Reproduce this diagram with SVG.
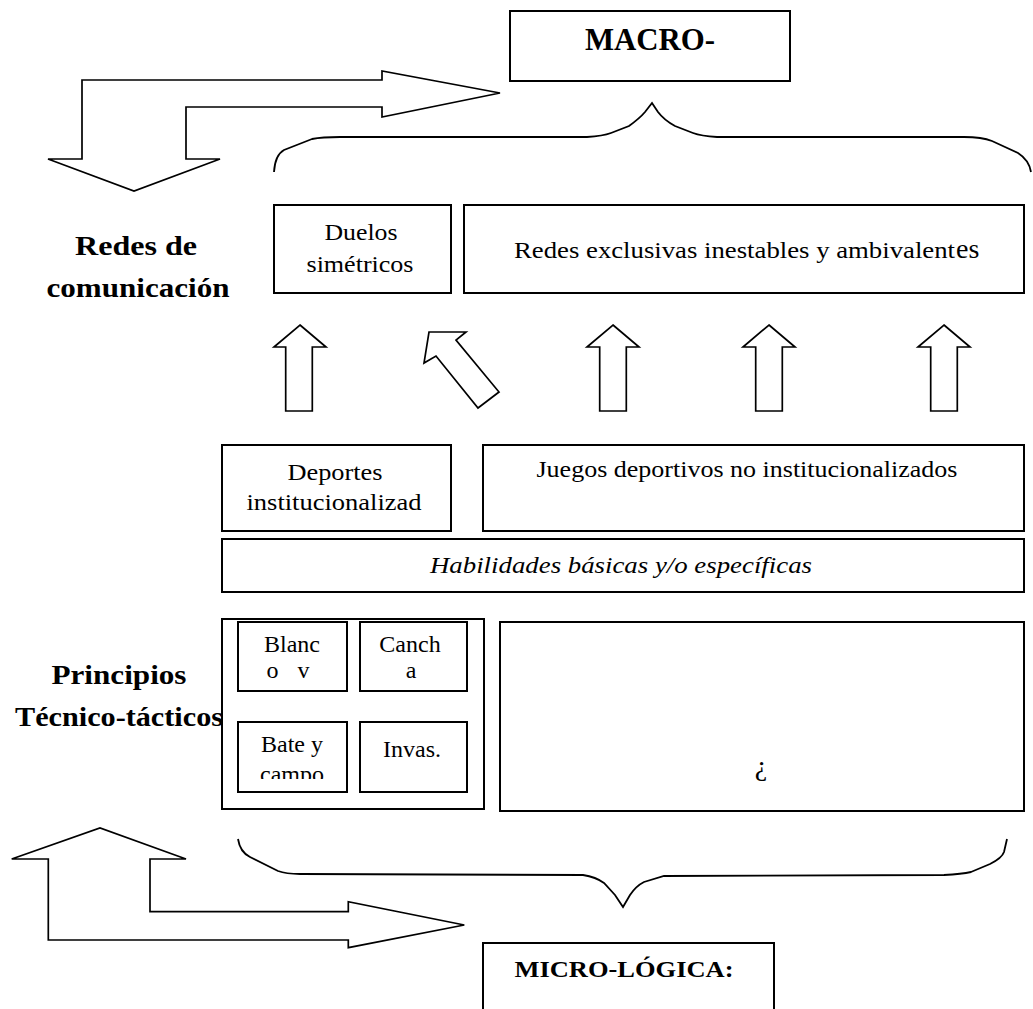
<svg xmlns="http://www.w3.org/2000/svg" width="1033" height="1009" viewBox="0 0 1033 1009">
<style>
.box{fill:#fff;stroke:#000;stroke-width:2}
.arr{fill:#fff;stroke:#000;stroke-width:1.7;stroke-linejoin:miter}
.brace{fill:none;stroke:#000;stroke-width:1.8}
text{font-family:"Liberation Serif","Times New Roman",serif;fill:#000}
.t{font-size:24px;text-anchor:middle}
.s{font-size:24px;text-anchor:middle}
.b{font-size:28px;font-weight:bold;text-anchor:middle}
.i{font-size:24px;font-style:italic;text-anchor:middle}
</style>
<defs>
<clipPath id="clipCampo"><rect x="238" y="755" width="108" height="24"/></clipPath>
</defs>
<rect width="1033" height="1009" fill="#fff"/>

<g id="connectors">
  <polygon class="arr" points="82,80 382,80 382,71 500,93 382,117 382,107 186,107 186,159 220,159 134,191 48,159 82,159"/>
  <path class="brace" d="M274,172 Q275,155 284,150 L312,139 Q322,137 340,137 L587,137 Q603,136 611,133 L629,126 Q640,118 645,112 L652,103 L658,112 Q664,120 675,126 L693,133 Q701,136 717,137 L964,137 Q982,137 992,141 L1018,153 Q1029,160 1031,172"/>
  <polygon class="arr" points="300,325 326,347 312.3,347 312.3,411 285.7,411 285.7,347 274,347"/>
  <polygon class="arr" points="429,332 466,332 456,340 499,392 478,408 436,356 424,363"/>
  <polygon class="arr" points="613,325 639,347 626.3,347 626.3,411 599.7,411 599.7,347 587,347"/>
  <polygon class="arr" points="769,325 795,347 782.3,347 782.3,411 755.7,411 755.7,347 743,347"/>
  <polygon class="arr" points="944,325 970,347 957.3,347 957.3,411 930.7,411 930.7,347 918,347"/>
  <path class="brace" d="M238,839 Q240,852 250,857 L278,871 Q286,874 300,874 L583,875 Q596,877 604,883 L615,895 L623,907 L630,895 Q636,886 644,882 L664,876 L944,875 Q962,874 971,872 L990,864 Q1002,858 1004,852 L1007,839"/>
  <polygon class="arr" points="48.3,940 48.3,859 11.7,859 100,828 186,859 150,859 150,911.7 348.3,911.7 348.3,901.7 464.3,925 348.3,947.7 348.3,940"/>
</g>

<g id="macro">
  <rect class="box" x="510" y="11" width="280" height="70"/>
  <text x="650" y="50" font-size="32" font-weight="bold" text-anchor="middle" textLength="130" lengthAdjust="spacingAndGlyphs">MACRO-</text>
</g>

<g id="redes-label">
  <text class="b" x="136" y="255" textLength="122" lengthAdjust="spacingAndGlyphs">Redes de</text>
  <text class="b" x="138" y="297" textLength="183" lengthAdjust="spacingAndGlyphs">comunicación</text>
</g>

<g id="duelos">
  <rect class="box" x="274" y="205" width="177" height="88"/>
  <text class="t" x="361" y="240" textLength="73" lengthAdjust="spacingAndGlyphs">Duelos</text>
  <text class="t" x="360" y="272" textLength="107" lengthAdjust="spacingAndGlyphs">simétricos</text>
</g>

<g id="redes-exclusivas">
  <rect class="box" x="464" y="205" width="560" height="88"/>
  <text x="514" y="258" font-size="24" textLength="441" lengthAdjust="spacingAndGlyphs">Redes exclusivas inestables y ambivalent</text>
  <text x="956" y="258" font-size="28">es</text>
</g>

<g id="deportes">
  <rect class="box" x="222" y="445" width="229" height="86"/>
  <text class="t" x="335" y="480" textLength="95" lengthAdjust="spacingAndGlyphs">Deportes</text>
  <text class="t" x="334" y="510" textLength="175" lengthAdjust="spacingAndGlyphs">institucionalizad</text>
</g>

<g id="juegos">
  <rect class="box" x="483" y="445" width="541" height="86"/>
  <text class="t" x="747" y="477" textLength="421" lengthAdjust="spacingAndGlyphs">Juegos deportivos no institucionalizados</text>
</g>

<g id="habilidades">
  <rect class="box" x="222" y="539" width="802" height="53"/>
  <text class="i" x="621" y="573" textLength="382" lengthAdjust="spacingAndGlyphs">Habilidades básicas y/o específicas</text>
</g>

<g id="principios-label">
  <text class="b" x="119" y="684" textLength="135" lengthAdjust="spacingAndGlyphs">Principios</text>
  <text class="b" x="119" y="726" textLength="208" lengthAdjust="spacingAndGlyphs">Técnico-tácticos</text>
</g>

<g id="principios">
  <rect class="box" x="222" y="619" width="262" height="190"/>
  <g id="blanco">
    <rect class="box" x="238" y="622" width="109" height="69"/>
    <text class="s" x="292" y="652">Blanc</text>
    <text class="s" x="288" y="678" textLength="43" lengthAdjust="spacing">o v</text>
  </g>
  <g id="cancha">
    <rect class="box" x="360" y="622" width="107" height="69"/>
    <text class="s" x="410" y="652">Canch</text>
    <text class="s" x="411" y="678">a</text>
  </g>
  <g id="bate">
    <rect class="box" x="238" y="722" width="109" height="70"/>
    <text class="s" x="292" y="752">Bate y</text>
    <text class="s" x="292" y="782" clip-path="url(#clipCampo)">campo</text>
  </g>
  <g id="invasion">
    <rect class="box" x="360" y="722" width="107" height="70"/>
    <text class="s" x="412" y="757">Invas.</text>
  </g>
</g>

<g id="desconocido">
  <rect class="box" x="500" y="622" width="524" height="189"/>
  <text x="761" y="775" font-size="28" text-anchor="middle">¿</text>
</g>

<g id="micro">
  <rect class="box" x="483" y="943" width="291" height="80"/>
  <text x="624" y="977" font-size="23" font-weight="bold" text-anchor="middle" textLength="219" lengthAdjust="spacingAndGlyphs">MICRO-LÓGICA:</text>
</g>
</svg>
